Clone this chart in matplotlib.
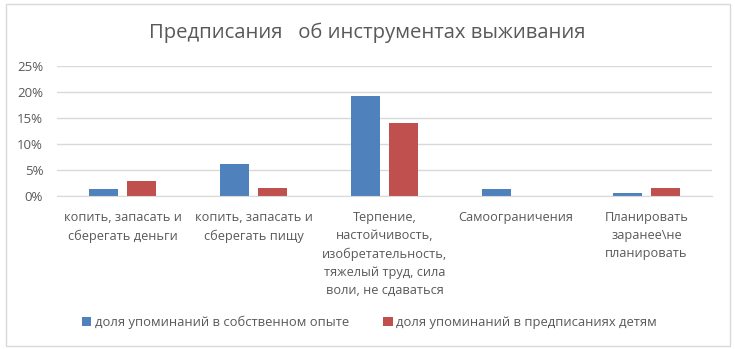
import matplotlib.pyplot as plt
from matplotlib.patches import Rectangle
from matplotlib.ticker import PercentFormatter
import numpy as np

plt.rcParams['font.family'] = ['Open Sans', 'DejaVu Sans']

categories = ["копить, запасать и\nсберегать деньги",
              "копить, запасать и\nсберегать пищу",
              "Терпение,\nнастойчивость,\nизобретательность,\nтяжелый труд, сила\nволи, не сдаваться",
              "Самоограничения",
              "Планировать\nзаранее\\не\nпланировать"]
own_experience = [1.2, 6.1, 19.2, 1.3, 0.6]
for_children = [2.8, 1.5, 14.0, 0.0, 1.4]
series_names = ["доля упоминаний в собственном опыте",
                "доля упоминаний в предписаниях детям"]
yticks = [0, 5, 10, 15, 20, 25]

grey = "#595959"
blue = "#4f81bd"
red = "#c0504d"

fig = plt.figure(figsize=(7.35, 3.49), dpi=100)
fig.patches.append(Rectangle((0.008, 0.009), 0.985, 0.98, transform=fig.transFigure,
                             fill=False, edgecolor="#d9d9d9", linewidth=1))

ax = fig.add_axes([0.0776, 0.4393, 0.891, 0.3717])
x = np.arange(len(categories))
w = 0.224
b1 = ax.bar(x - 0.1435, own_experience, w, color=blue, label=series_names[0])
b2 = ax.bar(x + 0.1435, for_children, w, color=red, label=series_names[1])

ax.set_xlim(-0.5, len(categories) - 0.5)
ax.set_ylim(0, 25)
ax.set_yticks(yticks)
ax.yaxis.set_major_formatter(PercentFormatter(decimals=0))
ax.grid(axis="y", color="#d9d9d9", linewidth=1)
ax.set_axisbelow(True)
for s in ["top", "right", "left"]:
    ax.spines[s].set_visible(False)
ax.spines["bottom"].set_color("#d9d9d9")

ax.set_xticks(x)
ax.set_xticklabels(categories, linespacing=1.52)
ax.tick_params(axis="x", length=0, pad=11, labelsize=9.2, labelcolor=grey)
ax.tick_params(axis="y", length=0, pad=10, labelsize=9.5, labelcolor=grey)

fig.text(0.5, 0.905, "Предписания   об инструментах выживания", ha="center", va="center",
         fontsize=14.6, color=grey)

fig.legend(handles=[b1, b2], loc="center", bbox_to_anchor=(0.503, 0.077), ncol=2,
           frameon=False, fontsize=9.4, labelcolor=grey, handlelength=0.7,
           handleheight=0.7, handletextpad=0.3, columnspacing=2.6)

fig.savefig("out.png", dpi=100)
